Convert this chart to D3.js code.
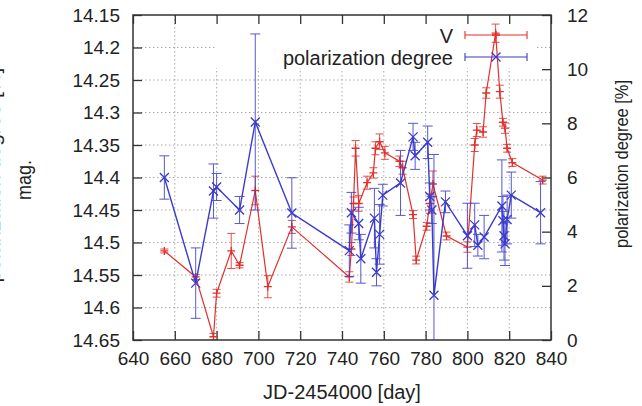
<!DOCTYPE html>
<html lang="en">
<head>
<meta charset="UTF-8">
<title>V and polarization degree</title>
<script src="https://d3js.org/d3.v7.min.js"></script>
<style>
  body { margin: 0; background: #fff; font-family: "Liberation Sans", Arial, sans-serif; }
  .tick text { fill: #222; }
  .grid line { stroke: #aaa; stroke-dasharray: 1.5,2.5; stroke-width: 1; }
</style>
</head>
<body>
<svg width="642" height="406"></svg>
<script>
// V band magnitude
const vDays = [655, 670, 678.5, 680, 687, 691, 698.5, 704.5, 716, 743.5, 744.5, 745.5, 746.5, 748, 752, 755, 756, 758, 760.5,
               767.5, 769, 774, 775.5, 780.5, 782, 783.5, 790, 800, 803.5, 804.5, 807.5, 809, 813.5, 815.5, 817, 818, 819, 821.5, 836];
const vMag  = [14.513, 14.553, 14.645, 14.578, 14.513, 14.535, 14.42, 14.568, 14.476, 14.553, 14.51, 14.44, 14.355, 14.44, 14.408, 14.393, 14.355, 14.345, 14.362,
               14.375, 14.385, 14.457, 14.527, 14.475, 14.44, 14.41, 14.49, 14.507, 14.35, 14.327, 14.33, 14.27, 14.178, 14.268, 14.315, 14.324, 14.355, 14.377, 14.404];
const vErr  = [0.003, 0.004, 0.005, 0.006, 0.027, 0.004, 0.022, 0.017, 0.01, 0.008, 0.01, 0.01, 0.012, 0.012, 0.01, 0.008, 0.01, 0.012, 0.01,
               0.008, 0.01, 0.006, 0.006, 0.006, 0.015, 0.02, 0.006, 0.008, 0.01, 0.01, 0.008, 0.008, 0.014, 0.01, 0.006, 0.008, 0.006, 0.006, 0.006];

// polarization degree [%]
const pDays = [655, 670, 678.5, 680, 691, 698.5, 716, 743.5, 744.5, 748, 749, 755.5, 756.5, 758, 759.5, 768, 774, 775, 781, 782, 783, 784,
               789.5, 800, 803.5, 805, 808, 816.5, 817, 817.5, 818, 819, 821, 835];
const pVal  = [6.0, 2.1, 5.5, 5.65, 4.8, 8.05, 4.69, 3.3, 4.7, 4.3, 3.0, 4.5, 2.5, 3.9, 5.35, 5.8, 7.5, 6.8, 7.3, 5.3, 4.8, 1.65,
               5.1, 3.85, 4.25, 3.5, 3.8, 4.95, 4.4, 3.85, 3.55, 4.45, 5.35, 4.7];
const pErr  = [0.8, 1.3, 1.0, 0.5, 0.5, 3.25, 1.3, 0.95, 0.75, 0.6, 0.9, 1.1, 0.5, 1.1, 0.4, 1.2, 0.5, 0.5, 0.6, 0.5, 0.5, 5.2,
               0.4, 1.2, 0.8, 0.4, 0.8, 1.7, 0.9, 0.9, 0.8, 0.9, 0.85, 1.15];

const xTicks = [640, 660, 680, 700, 720, 740, 760, 780, 800, 820, 840];
const magTicks = [14.15, 14.2, 14.25, 14.3, 14.35, 14.4, 14.45, 14.5, 14.55, 14.6, 14.65];
const magLabels = ["14.15", "14.2", "14.25", "14.3", "14.35", "14.4", "14.45", "14.5", "14.55", "14.6", "14.65"];
const polTicks = [0, 2, 4, 6, 8, 10, 12];

const RED = "#e2302b", BLUE = "#3b3bcc";

const svg = d3.select("svg"),
      margin = { top: 15, left: 133 },
      width = 418, height = 325,
      g = svg.append("g").attr("transform", `translate(${margin.left},${margin.top})`);

const x = d3.scaleLinear().domain([640, 840]).range([0, width]);
const yMag = d3.scaleLinear().domain([14.15, 14.65]).range([0, height]);
const yPol = d3.scaleLinear().domain([0, 12]).range([height, 0]);

// grid
g.append("g").attr("class", "grid")
  .selectAll("line").data(xTicks.slice(1, -1)).enter().append("line")
  .attr("x1", d => x(d)).attr("x2", d => x(d)).attr("y1", 0).attr("y2", height);
g.append("g").attr("class", "grid")
  .selectAll("line").data(magTicks.slice(1, -1)).enter().append("line")
  .attr("x1", 0).attr("x2", width).attr("y1", d => yMag(d)).attr("y2", d => yMag(d));

// legend background (opaque key)
g.append("rect").attr("x", 82).attr("y", 1).attr("width", 320).attr("height", 52).attr("fill", "#fff");

// axes (inward ticks)
const fs = "19px";
const axBottom = g.append("g").attr("transform", `translate(0,${height})`)
  .call(d3.axisBottom(x).tickValues(xTicks).tickSize(-9).tickPadding(12));
const axTop = g.append("g").call(d3.axisTop(x).tickValues(xTicks).tickSize(-9).tickFormat(""));
const axLeft = g.append("g")
  .call(d3.axisLeft(yMag).tickValues(magTicks).tickSize(-9).tickPadding(13).tickFormat((d, i) => magLabels[i]));
const axRight = g.append("g").attr("transform", `translate(${width},0)`)
  .call(d3.axisRight(yPol).tickValues(polTicks).tickSize(-9).tickPadding(16));
[axBottom, axTop, axLeft, axRight].forEach(a => {
  a.select(".domain").remove();
  a.selectAll(".tick line").attr("stroke", "#333").attr("stroke-width", 1.3);
  a.selectAll(".tick text").style("font-size", fs).style("font-family", "'Liberation Sans', Arial, sans-serif");
});

g.append("clipPath").attr("id", "clip").append("rect").attr("width", width).attr("height", height);
const plot = g.append("g").attr("clip-path", "url(#clip)");

function errBars(sel, xs, ys, lo, hi, color, cap) {
  const idx = d3.range(xs.length);
  const p = sel.append("g").attr("stroke", color).attr("stroke-width", 1).attr("fill", "none").attr("opacity", 0.85);
  p.selectAll("path").data(idx).enter().append("path")
    .attr("d", i => {
      const xx = x(xs[i]), a = lo(i), b = hi(i);
      return `M${xx},${a}V${b}M${xx - cap},${a}H${xx + cap}M${xx - cap},${b}H${xx + cap}`;
    });
}

// V series
const vLine = d3.line().x(i => x(vDays[i])).y(i => yMag(vMag[i]));
errBars(plot, vDays, vMag, i => yMag(vMag[i] - vErr[i]), i => yMag(vMag[i] + vErr[i]), RED, 4);
plot.append("path").datum(d3.range(vDays.length)).attr("d", vLine)
  .attr("fill", "none").attr("stroke", RED).attr("stroke-width", 1.2);
plot.append("g").selectAll("path").data(d3.range(vDays.length)).enter().append("path")
  .attr("d", i => { const a = x(vDays[i]), b = yMag(vMag[i]); return `M${a - 4},${b}H${a + 4}M${a},${b - 4}V${b + 4}`; })
  .attr("stroke", RED).attr("stroke-width", 1.3);

// polarization series
const pLine = d3.line().x(i => x(pDays[i])).y(i => yPol(pVal[i]));
errBars(plot, pDays, pVal, i => yPol(pVal[i] - pErr[i]), i => yPol(pVal[i] + pErr[i]), BLUE, 5);
plot.append("path").datum(d3.range(pDays.length)).attr("d", pLine)
  .attr("fill", "none").attr("stroke", BLUE).attr("stroke-width", 1.4);
plot.append("g").selectAll("path").data(d3.range(pDays.length)).enter().append("path")
  .attr("d", i => { const a = x(pDays[i]), b = yPol(pVal[i]); return `M${a - 4.5},${b - 4.5}L${a + 4.5},${b + 4.5}M${a - 4.5},${b + 4.5}L${a + 4.5},${b - 4.5}`; })
  .attr("stroke", BLUE).attr("stroke-width", 1.3);

// frame
g.append("rect").attr("width", width).attr("height", height)
  .attr("fill", "none").attr("stroke", "#333").attr("stroke-width", 1.5);

// legend
const legend = [{ label: "V", color: RED, y: 20, mark: "+" }, { label: "polarization degree", color: BLUE, y: 42, mark: "x" }];
legend.forEach(l => {
  g.append("text").attr("x", 320).attr("y", l.y + 8).attr("text-anchor", "end")
    .style("font-size", "20px").attr("fill", "#222").text(l.label);
  const x0 = 332, x1 = 394, xm = (x0 + x1) / 2;
  g.append("path").attr("d", `M${x0},${l.y}H${x1}M${x0},${l.y - 4}V${l.y + 4}M${x1},${l.y - 4}V${l.y + 4}`)
    .attr("stroke", l.color).attr("stroke-width", 1.1).attr("fill", "none");
  g.append("path").attr("d", l.mark === "+" ? `M${xm - 4},${l.y}H${xm + 4}M${xm},${l.y - 4}V${l.y + 4}`
      : `M${xm - 4.5},${l.y - 4.5}L${xm + 4.5},${l.y + 4.5}M${xm - 4.5},${l.y + 4.5}L${xm + 4.5},${l.y - 4.5}`)
    .attr("stroke", l.color).attr("stroke-width", 1.3);
});

// axis labels
svg.append("text").attr("x", 342).attr("y", 399).attr("text-anchor", "middle")
  .style("font-size", "20px").attr("fill", "#222").text("JD-2454000 [day]");
svg.append("text").attr("transform", "translate(31,180) rotate(-90)").attr("text-anchor", "middle")
  .attr("textLength", 40).attr("lengthAdjust", "spacingAndGlyphs")
  .style("font-size", "21px").attr("fill", "#222").text("mag.");
svg.append("text").attr("transform", "translate(628,164) rotate(-90)").attr("text-anchor", "middle")
  .attr("textLength", 168).attr("lengthAdjust", "spacingAndGlyphs")
  .style("font-size", "19px").attr("fill", "#222").text("polarization degree [%]");
// label of the neighbouring panel, cut by the left edge as in the source figure
svg.append("text").attr("transform", "translate(-0.5,175) rotate(-90)").attr("text-anchor", "middle")
  .style("font-size", "21px").attr("fill", "#222").text("polarization degree [%]");
</script>
</body>
</html>
